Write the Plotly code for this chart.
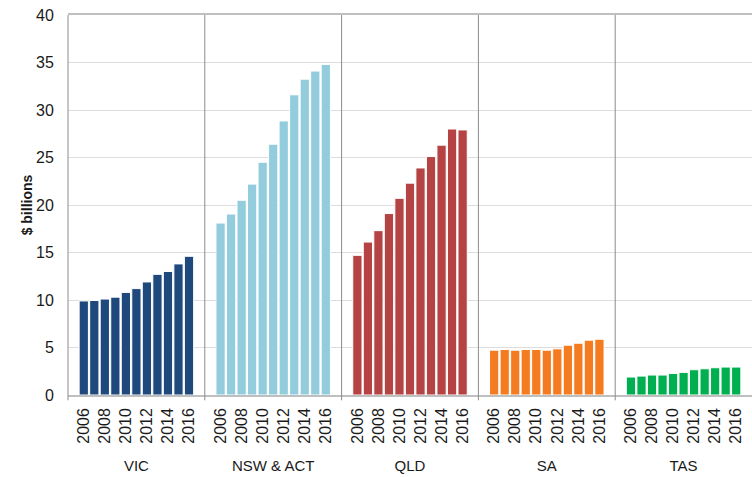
import plotly.graph_objects as go
from plotly.subplots import make_subplots

years = [str(y) for y in range(2006, 2017)]
tick_years = ["2006", "2008", "2010", "2012", "2014", "2016"]
regions = ["VIC", "NSW & ACT", "QLD", "SA", "TAS"]

vic = [9.9, 9.95, 10.1, 10.3, 10.8, 11.2, 11.9, 12.7, 13.0, 13.8, 14.6]
nsw_act = [18.1, 19.05, 20.5, 22.2, 24.5, 26.4, 28.85, 31.6, 33.25, 34.1, 34.8]
qld = [14.7, 16.1, 17.3, 19.1, 20.7, 22.3, 23.9, 25.1, 26.3, 28.0, 27.9]
sa = [4.72, 4.79, 4.72, 4.79, 4.79, 4.72, 4.86, 5.24, 5.45, 5.77, 5.87]
tas = [1.89, 1.99, 2.1, 2.1, 2.27, 2.38, 2.66, 2.76, 2.87, 2.94, 2.94]

series = [vic, nsw_act, qld, sa, tas]
colors = ["#1F497D", "#93CDDD", "#B54343", "#F47B20", "#00B050"]

FONT = "Liberation Sans"

fig = make_subplots(rows=1, cols=5, shared_yaxes=True, horizontal_spacing=0)

for i, (name, vals, col) in enumerate(zip(regions, series, colors)):
    fig.add_trace(
        go.Bar(
            x=years, y=vals, name=name,
            marker=dict(color=col, line=dict(color="white", width=1)),
            showlegend=False,
        ),
        row=1, col=i + 1,
    )
    fig.update_xaxes(
        type="category",
        categoryorder="array", categoryarray=years,
        range=[-1.5, 11.5],
        tickmode="array", tickvals=tick_years, ticktext=tick_years,
        tickangle=-90,
        tickfont=dict(family=FONT, size=16, color="#1a1a1a"),
        showline=True, mirror=True, linecolor="#BFBFBF", linewidth=1.5,
        showgrid=False, ticks="outside", ticklen=5, tickcolor="rgba(0,0,0,0)",
        title=dict(text=name, font=dict(family=FONT, size=15, color="#1a1a1a"), standoff=18),
        row=1, col=i + 1,
    )
    fig.update_yaxes(
        range=[0, 40], dtick=5,
        showgrid=True, gridcolor="#DDDDDD", gridwidth=1,
        zeroline=False, showline=False, ticks="",
        row=1, col=i + 1,
    )

fig.update_yaxes(
    tickfont=dict(family=FONT, size=16, color="#1a1a1a"),
    ticks="outside", ticklen=10, tickcolor="rgba(0,0,0,0)",
    title=dict(text="<b>$ billions</b>", font=dict(family=FONT, size=14, color="#1a1a1a"), standoff=0),
    row=1, col=1,
)

# panel separators
for k in range(5):
    fig.add_shape(
        type="line", xref="paper", yref="paper",
        x0=k / 5, x1=k / 5, y0=-0.014, y1=1,
        line=dict(color="#8C8C8C", width=1),
    )

fig.update_layout(
    width=752, height=477,
    margin=dict(l=68, r=0, t=15, b=82, autoexpand=False),
    plot_bgcolor="white", paper_bgcolor="white",
    bargap=0.12,
    font=dict(family=FONT, color="#1a1a1a"),
)

fig.write_html("out.html", config={"displayModeBar": False},
               post_script="document.body.style.margin='0';")
